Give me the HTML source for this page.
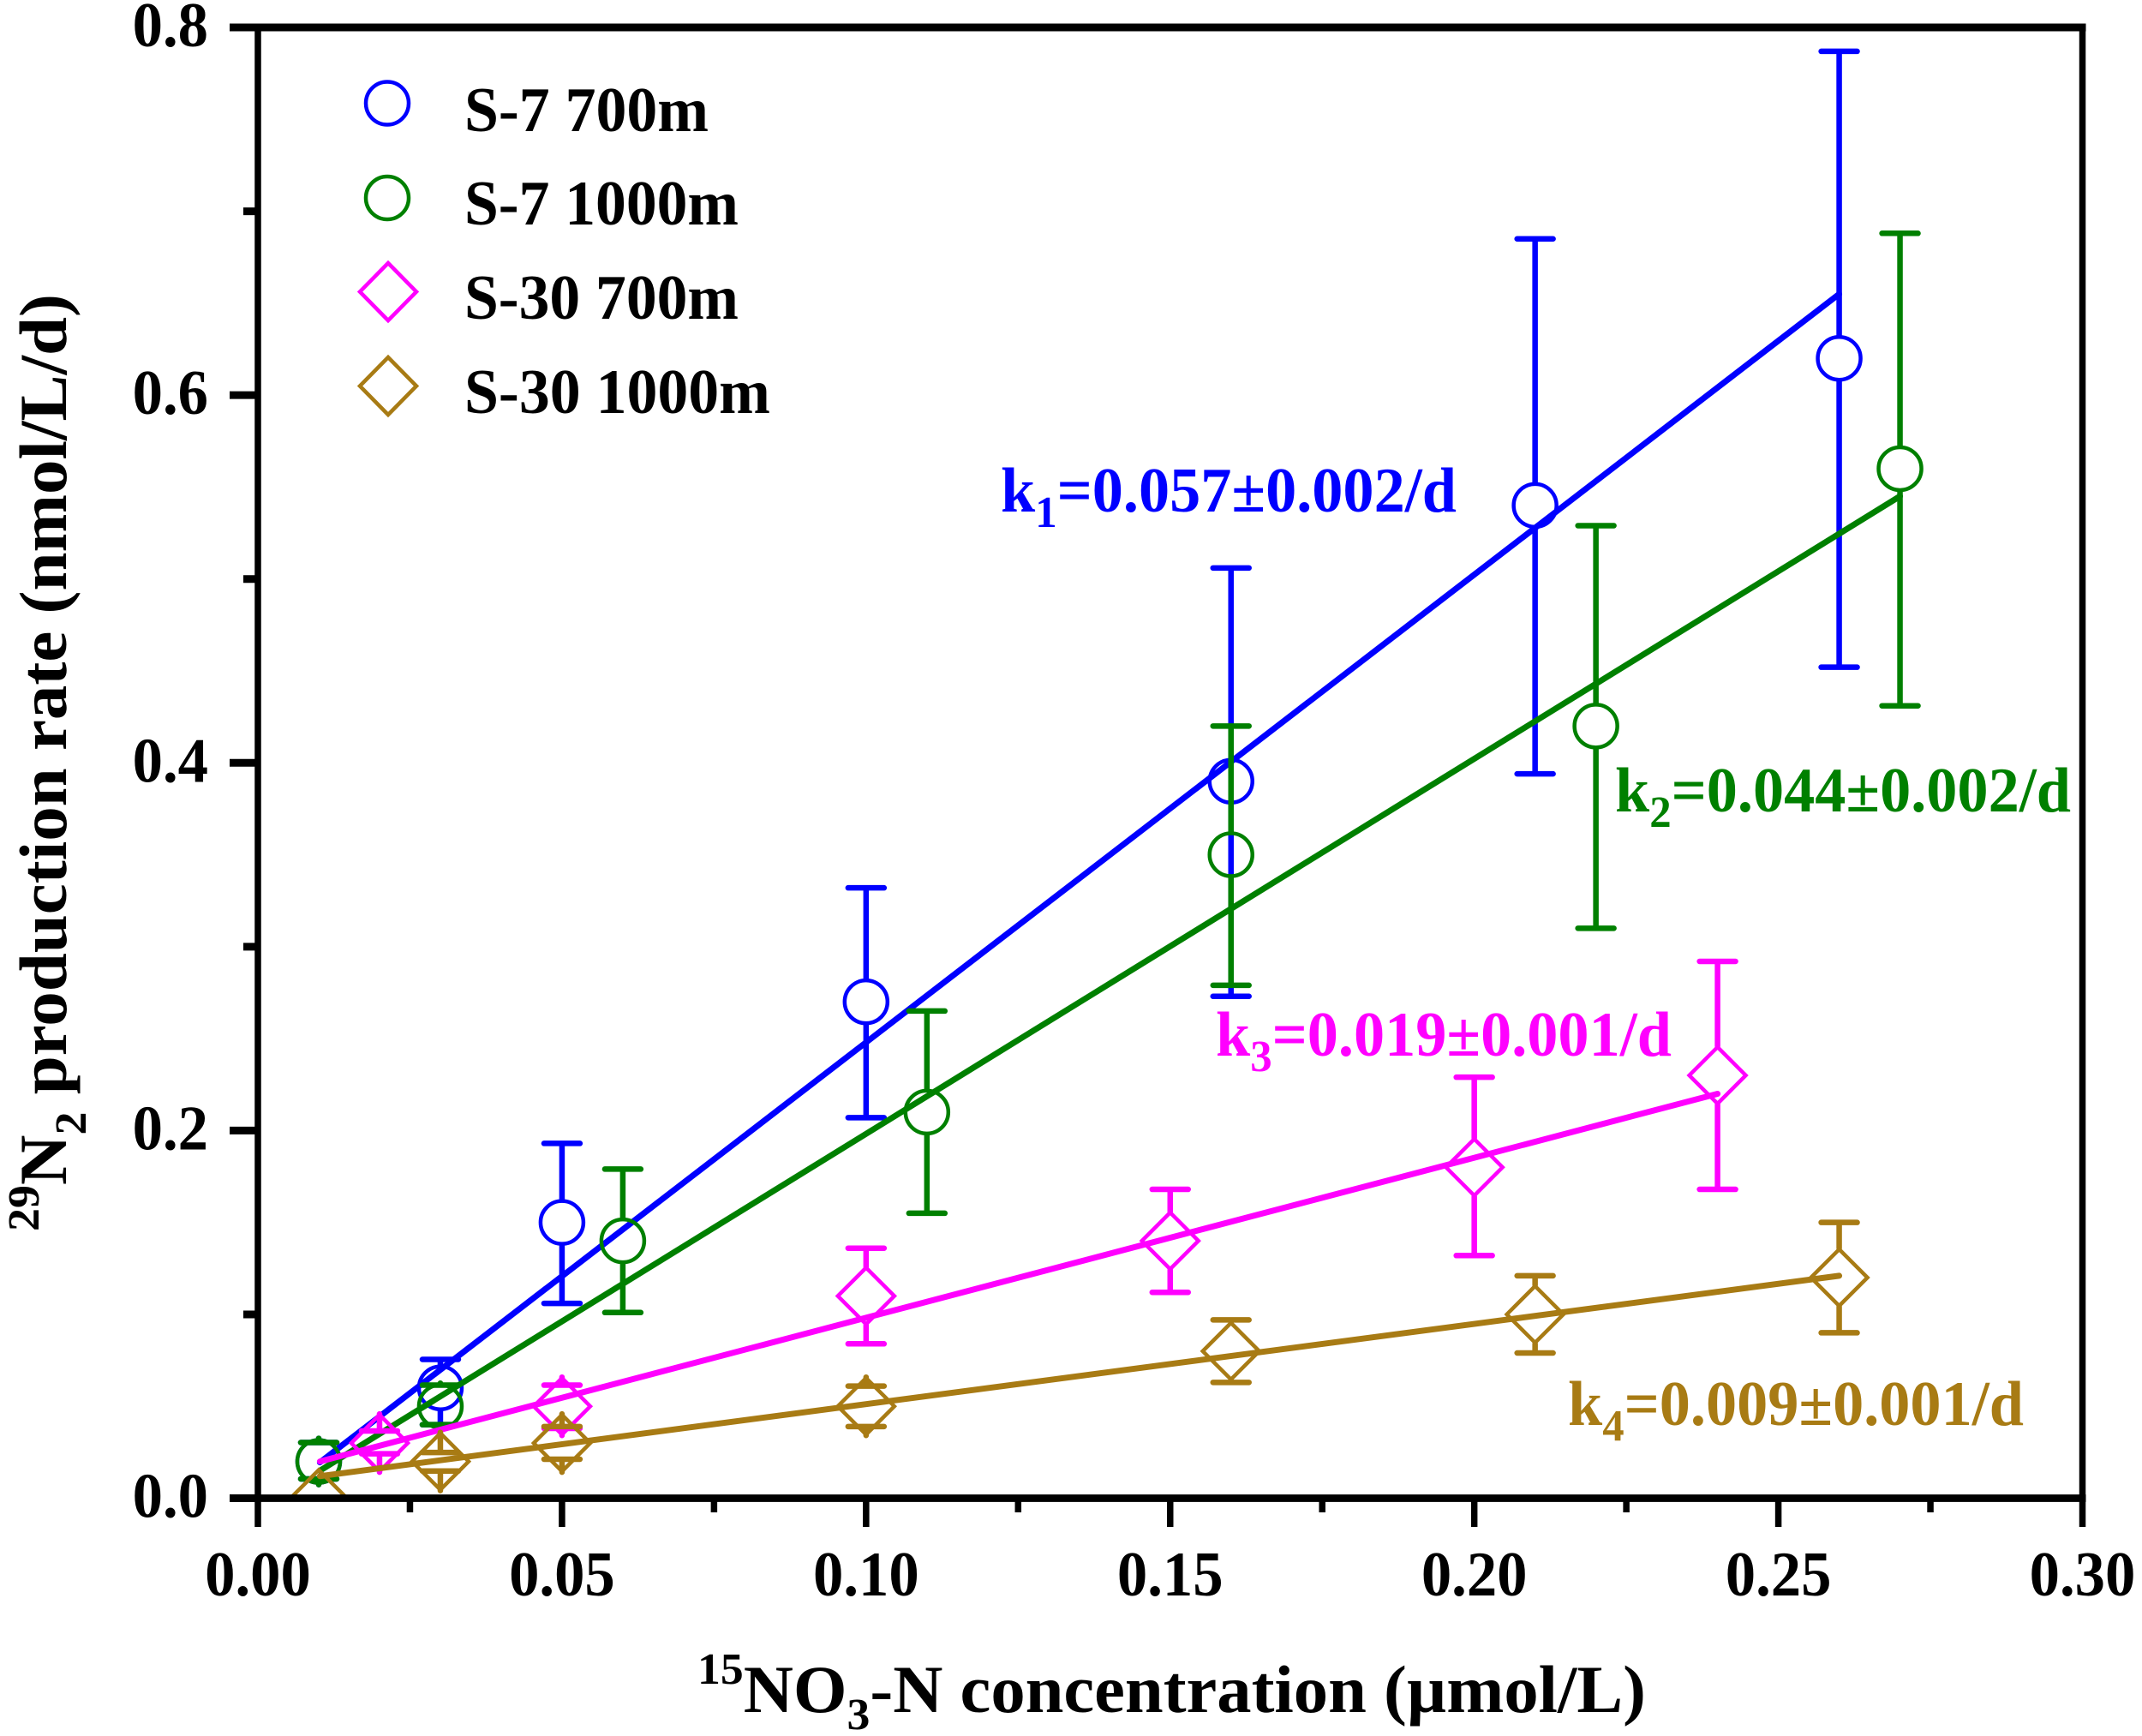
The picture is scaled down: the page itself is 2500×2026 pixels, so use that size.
<!DOCTYPE html>
<html lang="en">
<head>
<meta charset="utf-8">
<title>29N2 production rate vs 15NO3-N concentration</title>
<style>
html,body{margin:0;padding:0;background:#fff;}
svg{display:block;}
text{font-family:"Liberation Serif",serif;font-weight:bold;}
</style>
</head>
<body>
<svg id="chart" xmlns="http://www.w3.org/2000/svg" width="2500" height="2026" viewBox="0 0 2500 2026">
  <defs><clipPath id="plot-clip"><rect x="301" y="32" width="2130" height="1717"/></clipPath></defs>
  <rect width="2500" height="2026" fill="#fff"/>
  <g id="series-layer" clip-path="url(#plot-clip)"></g>
  <g id="axes-layer"></g>

  <text transform="translate(77,1437) rotate(-90)" font-size="78" fill="#000" textLength="1094" lengthAdjust="spacingAndGlyphs"><tspan font-size="52" dy="-32">29</tspan><tspan dy="32">N</tspan><tspan font-size="52" dy="23">2</tspan><tspan dy="-23"> production rate (nmol/L/d)</tspan></text>
  <text x="814" y="1998" font-size="78" fill="#000" textLength="1107" lengthAdjust="spacingAndGlyphs"><tspan font-size="52" dy="-33">15</tspan><tspan dy="33">NO</tspan><tspan font-size="52" dy="20">3</tspan><tspan dy="-20">-N concentration (µmol/L)</tspan></text>

  <g>
    <circle cx="452" cy="120.5" r="25" fill="none" stroke="#0000ff" stroke-width="4.5"/>
    <text x="542" y="153" font-size="74" textLength="285" lengthAdjust="spacingAndGlyphs">S-7 700m</text>
    <circle cx="452" cy="231" r="25" fill="none" stroke="#008000" stroke-width="4.5"/>
    <text x="542" y="262" font-size="74" textLength="320" lengthAdjust="spacingAndGlyphs">S-7 1000m</text>
    <polygon points="453,307 486,340.5 453,374 420,340.5" fill="none" stroke="#ff00ff" stroke-width="4.5"/>
    <text x="542" y="372" font-size="74" textLength="320" lengthAdjust="spacingAndGlyphs">S-30 700m</text>
    <polygon points="453,417 486,450.5 453,484 420,450.5" fill="none" stroke="#a87b14" stroke-width="4.5"/>
    <text x="542" y="482" font-size="74" textLength="357" lengthAdjust="spacingAndGlyphs">S-30 1000m</text>
  </g>

  <text x="1168" y="597" font-size="74" fill="#0000ff" textLength="532" lengthAdjust="spacingAndGlyphs">k<tspan font-size="52" dy="18">1</tspan><tspan dy="-18">=0.057±0.002/d</tspan></text>
  <text x="1885" y="947" font-size="74" fill="#008000" textLength="532" lengthAdjust="spacingAndGlyphs">k<tspan font-size="52" dy="18">2</tspan><tspan dy="-18">=0.044±0.002/d</tspan></text>
  <text x="1419" y="1232" font-size="74" fill="#ff00ff" textLength="532" lengthAdjust="spacingAndGlyphs">k<tspan font-size="52" dy="18">3</tspan><tspan dy="-18">=0.019±0.001/d</tspan></text>
  <text x="1830" y="1663" font-size="74" fill="#a87b14" textLength="532" lengthAdjust="spacingAndGlyphs">k<tspan font-size="52" dy="18">4</tspan><tspan dy="-18">=0.009±0.001/d</tspan></text>
</svg>

<script>
// Axis tick values
var xMajorTicks = [0, 0.05, 0.10, 0.15, 0.20, 0.25, 0.30];
var xMinorTicks = [0.025, 0.075, 0.125, 0.175, 0.225, 0.275];
var xTickLabels = ['0.00', '0.05', '0.10', '0.15', '0.20', '0.25', '0.30'];
var yMajorTicks = [0, 0.2, 0.4, 0.6, 0.8];
var yMinorTicks = [0.1, 0.3, 0.5, 0.7];
var yTickLabels = ['0.0', '0.2', '0.4', '0.6', '0.8'];

// S-7 700m
var s7a700X = [0.01, 0.03, 0.05, 0.10, 0.16, 0.21, 0.26];
var s7a700Y = [0.02, 0.06, 0.15, 0.27, 0.39, 0.54, 0.62];
var s7a700Hi = [0.0303, 0.0755, 0.193, 0.332, 0.506, 0.685, 0.787];
var s7a700Lo = [0.0105, 0.04, 0.106, 0.207, 0.273, 0.394, 0.452];
var s7a700FitX = [0.0102, 0.26];
var s7a700FitY = [0.0195, 0.655];

// S-7 1000m
var s7b1000X = [0.01, 0.03, 0.06, 0.11, 0.16, 0.22, 0.27];
var s7b1000Y = [0.02, 0.05, 0.14, 0.21, 0.35, 0.42, 0.56];
var s7b1000Hi = [0.0303, 0.0615, 0.179, 0.265, 0.42, 0.529, 0.688];
var s7b1000Lo = [0.0105, 0.04, 0.101, 0.155, 0.279, 0.31, 0.431];
var s7b1000FitX = [0.0102, 0.27];
var s7b1000FitY = [0.015, 0.545];

// S-30 700m
var s30a700X = [0.02, 0.05, 0.10, 0.15, 0.20, 0.24];
var s30a700Y = [0.03, 0.05, 0.11, 0.14, 0.18, 0.23];
var s30a700Hi = [0.0366, 0.0615, 0.136, 0.168, 0.229, 0.292];
var s30a700Lo = [0.0242, 0.038, 0.084, 0.112, 0.132, 0.168];
var s30a700FitX = [0.0102, 0.24];
var s30a700FitY = [0.02, 0.22];

// S-30 1000m
var s30b1000X = [0.01, 0.03, 0.05, 0.10, 0.16, 0.21, 0.26];
var s30b1000Y = [0, 0.02, 0.03, 0.05, 0.08, 0.10, 0.12];
var s30b1000Hi = [0, 0.0249, 0.039, 0.061, 0.097, 0.121, 0.15];
var s30b1000Lo = [0, 0.0148, 0.0212, 0.039, 0.063, 0.079, 0.09];
var s30b1000FitX = [0.0102, 0.26];
var s30b1000FitY = [0.012, 0.121];

var NS = 'http://www.w3.org/2000/svg';
var X0 = 301, X1 = 2430.5, XMAX = 0.30;
var Y0 = 1748.5, Y1 = 32, YMAX = 0.8;
var TEXT_SQUEEZE = 0.955;
function sx(v) { return X0 + (v / XMAX) * (X1 - X0); }
function sy(v) { return Y0 - (v / YMAX) * (Y0 - Y1); }

function make(tag, attrs, parent) {
  var el = document.createElementNS(NS, tag);
  for (var k in attrs) { el.setAttribute(k, attrs[k]); }
  parent.appendChild(el);
  return el;
}

function squeeze(el) {
  el.setAttribute('textLength', el.getComputedTextLength() * TEXT_SQUEEZE);
  el.setAttribute('lengthAdjust', 'spacingAndGlyphs');
}

var axes = document.getElementById('axes-layer');
var layer = document.getElementById('series-layer');

function drawSeries(slug, color, shape, xs, ys, his, los, fitX, fitY) {
  var g = make('g', {}, layer);
  
  

  var edge = shape === 'circle' ? 27 : 34;
  xs.forEach(function (xv, i) {
    var px = sx(xv), py = sy(ys[i]);
    if (his[i] !== ys[i]) {
      var topBar = make('path', {
        d: 'M' + px + ' ' + (py - edge) + 'V' + sy(his[i]) +
           'M' + (px - 21) + ' ' + sy(his[i]) + 'H' + (px + 21),
        stroke: color, 'stroke-width': 6.5, fill: 'none', 'stroke-linecap': 'round'
      }, g);
      
      
    }
    if (los[i] !== ys[i]) {
      var lowBar = make('path', {
        d: 'M' + px + ' ' + (py + edge) + 'V' + sy(los[i]) +
           'M' + (px - 21) + ' ' + sy(los[i]) + 'H' + (px + 21),
        stroke: color, 'stroke-width': 6.5, fill: 'none', 'stroke-linecap': 'round'
      }, g);
      
      
    }
    var mark;
    if (shape === 'circle') {
      mark = make('circle', { cx: px, cy: py, r: 25, fill: 'none', stroke: color, 'stroke-width': 4.5 }, g);
    } else {
      var pts = [px, py - 33, px + 33, py, px, py + 33, px - 33, py].join(' ');
      mark = make('polygon', { points: pts, fill: 'none', stroke: color, 'stroke-width': 4.5 }, g);
    }
    
    
  });

  var fit = make('line', {
    x1: sx(fitX[0]), y1: sy(fitY[0]), x2: sx(fitX[1]), y2: sy(fitY[1]),
    stroke: color, 'stroke-width': 7, 'stroke-linecap': 'round'
  }, g);
  
  
}

drawSeries('s7-700m', '#0000ff', 'circle', s7a700X, s7a700Y, s7a700Hi, s7a700Lo, s7a700FitX, s7a700FitY);
drawSeries('s7-1000m', '#008000', 'circle', s7b1000X, s7b1000Y, s7b1000Hi, s7b1000Lo, s7b1000FitX, s7b1000FitY);
drawSeries('s30-700m', '#ff00ff', 'diamond', s30a700X, s30a700Y, s30a700Hi, s30a700Lo, s30a700FitX, s30a700FitY);
drawSeries('s30-1000m', '#a87b14', 'diamond', s30b1000X, s30b1000Y, s30b1000Hi, s30b1000Lo, s30b1000FitX, s30b1000FitY);

// Frame
var frameLeft = make('line', { x1: X0, y1: Y1, x2: X0, y2: Y0, stroke: '#000', 'stroke-width': 7.5 }, axes);


var frameRight = make('line', { x1: X1, y1: Y1, x2: X1, y2: Y0, stroke: '#000', 'stroke-width': 7.5 }, axes);


var frameTop = make('line', { x1: X0, y1: Y1, x2: X1 + 4, y2: Y1, stroke: '#000', 'stroke-width': 9 }, axes);


var frameBottom = make('line', { x1: X0, y1: Y0, x2: X1 + 4, y2: Y0, stroke: '#000', 'stroke-width': 8.7 }, axes);



// X ticks
xMajorTicks.forEach(function (v, i) {
  var t = make('line', { x1: sx(v), y1: Y0, x2: sx(v), y2: 1782, stroke: '#000', 'stroke-width': 7.5 }, axes);
  
  
  var lab = make('text', { x: sx(v), y: 1862, 'font-size': 74, 'text-anchor': 'middle', fill: '#000' }, axes);
  
  
  lab.textContent = xTickLabels[i];
  squeeze(lab);
});
xMinorTicks.forEach(function (v) {
  var t = make('line', { x1: sx(v), y1: Y0, x2: sx(v), y2: 1765, stroke: '#000', 'stroke-width': 7.5 }, axes);
  
  
});

// Y ticks
yMajorTicks.forEach(function (v, i) {
  var t = make('line', { x1: 268, y1: sy(v), x2: X0, y2: sy(v), stroke: '#000', 'stroke-width': 9 }, axes);
  
  
  var lab = make('text', { x: 243, y: sy(v) + 22, 'font-size': 74, 'text-anchor': 'end', fill: '#000' }, axes);
  
  
  lab.textContent = yTickLabels[i];
  squeeze(lab);
});
yMinorTicks.forEach(function (v) {
  var t = make('line', { x1: 284, y1: sy(v), x2: X0, y2: sy(v), stroke: '#000', 'stroke-width': 9 }, axes);
  
  
});
</script>
</body>
</html>
